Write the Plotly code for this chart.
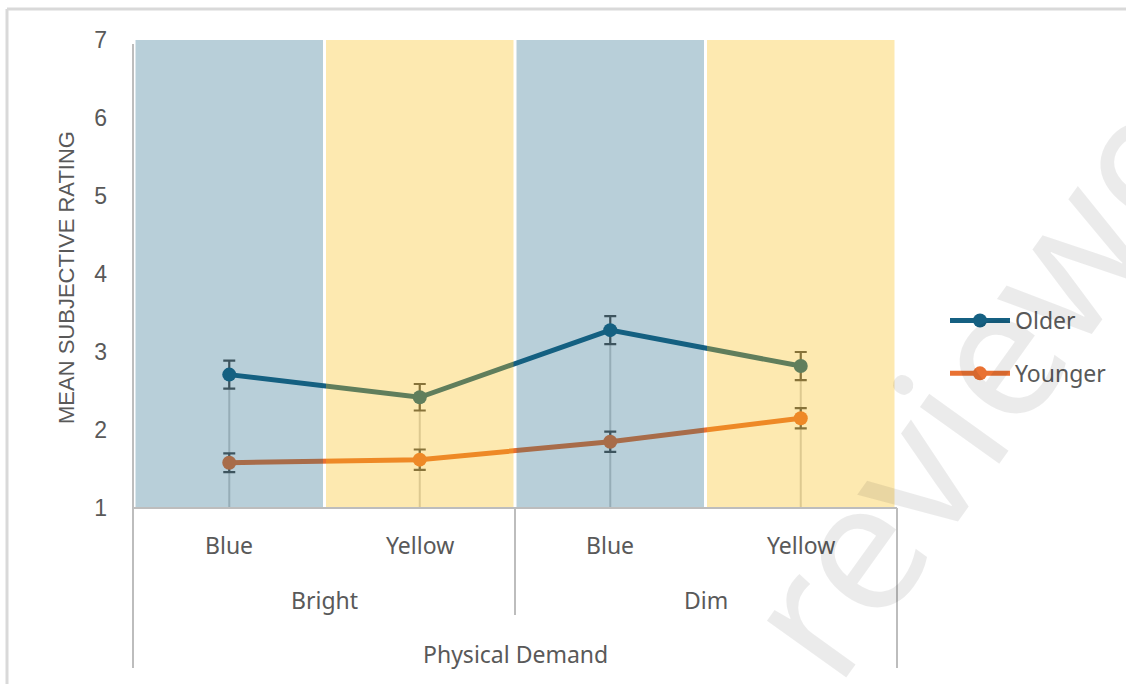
import plotly.graph_objects as go

# ---- data -------------------------------------------------------------
lights = ["Blue", "Yellow", "Blue", "Yellow"]
levels = ["Bright", "Dim"]
group_title = "Physical Demand"

older = [2.71, 2.42, 3.28, 2.82]
older_err = [0.18, 0.17, 0.18, 0.18]
younger = [1.58, 1.62, 1.85, 2.15]
younger_err = [0.12, 0.13, 0.13, 0.13]

y_ticks = [1, 2, 3, 4, 5, 6, 7]

# ---- styling ----------------------------------------------------------
OLDER_C = "#156082"
YOUNGER_C = "#E97132"
BAND_C = {"Blue": "rgba(21,96,130,0.30)", "Yellow": "rgba(249,188,15,0.33)"}
TXT = "#595959"
AXLINE = "#bdbdbd"
CAT_FONT = dict(family="Noto Sans, Open Sans, sans-serif", size=23, color=TXT)

W, H = 1126, 684
L, R, T, B = 134, 230, 40, 176
PW, PH = W - L - R, H - T - B


def px(xp):
    return (xp - L) / PW


def py(yp):
    return (H - B - yp) / PH


xs = list(range(len(lights)))

fig = go.Figure()

# drop lines from the upper series down to the axis floor
drop_x, drop_y = [], []
for x, v in zip(xs, older):
    drop_x += [x, x, None]
    drop_y += [v, y_ticks[0], None]
fig.add_trace(go.Scatter(x=drop_x, y=drop_y, mode="lines",
                         line=dict(color="#cfcfcf", width=2),
                         hoverinfo="skip", showlegend=False))

for name, vals, errs, col in [("Older", older, older_err, OLDER_C),
                              ("Younger", younger, younger_err, YOUNGER_C)]:
    fig.add_trace(go.Scatter(
        x=xs, y=vals, name=name, legendgroup=name, mode="lines+markers",
        line=dict(color=col, width=5),
        marker=dict(color=col, size=14),
        error_y=dict(type="data", array=errs, visible=True,
                     color="#505050", thickness=2.2, width=6),
    ))

shapes = []
gap = 1.5 / (PW / len(lights))
# translucent light-colour bands laid over the series
for i, lt in enumerate(lights):
    shapes.append(dict(type="rect", xref="x", yref="y", layer="above",
                       x0=i - 0.5 + gap, x1=i + 0.5 - gap,
                       y0=y_ticks[0], y1=y_ticks[-1],
                       fillcolor=BAND_C[lt], line=dict(width=0)))

# axis frame and category dividers
line = dict(color=AXLINE, width=2)
shapes += [
    dict(type="line", xref="paper", yref="paper", x0=px(133), x1=px(133),
         y0=py(44), y1=py(668), line=line),
    dict(type="line", xref="paper", yref="paper", x0=px(133), x1=px(897),
         y0=0, y1=0, line=line),
    dict(type="line", xref="x", yref="paper", x0=1.5, x1=1.5,
         y0=0, y1=py(615), line=line),
    dict(type="line", xref="paper", yref="paper", x0=px(897), x1=px(897),
         y0=0, y1=py(668), line=line),
    # chart-area border
    dict(type="line", xref="paper", yref="paper", x0=px(7), x1=px(1130),
         y0=py(9), y1=py(9), line=dict(color="#d9d9d9", width=3)),
    dict(type="line", xref="paper", yref="paper", x0=px(7), x1=px(7),
         y0=py(9), y1=py(690), line=dict(color="#d9d9d9", width=3)),
]

mid = dict(xanchor="center", yanchor="middle", showarrow=False)
ann = []
for i, lt in enumerate(lights):
    ann.append(dict(x=i, y=py(545), xref="x", yref="paper", text=lt,
                    font=CAT_FONT, **mid))
for j, lv in enumerate(levels):
    ann.append(dict(x=2 * j + 0.5, y=py(600), xref="x", yref="paper", text=lv,
                    font=CAT_FONT, **mid))
ann.append(dict(x=1.5, y=py(654), xref="x", yref="paper", text=group_title,
                font=CAT_FONT, **mid))
ann.append(dict(x=px(66), y=py(278), xref="paper", yref="paper",
                text="MEAN SUBJECTIVE RATING", textangle=-90,
                font=dict(family="Liberation Sans, Arial, sans-serif",
                          size=22, color=TXT), **mid))
# diagonal watermark
ann.append(dict(x=px(992), y=py(352), xref="paper", yref="paper",
                text="reviewer", textangle=-54.4,
                font=dict(family="Noto Sans, sans-serif", size=182,
                          color="rgba(0,0,0,0.08)"), **mid))

fig.update_layout(
    width=W, height=H,
    margin=dict(l=L, r=R, t=T, b=B, pad=0),
    paper_bgcolor="white", plot_bgcolor="white",
    shapes=shapes, annotations=ann,
    showlegend=True,
    legend=dict(x=px(945), y=py(347), xanchor="left", yanchor="middle",
                font=dict(family="Noto Sans, sans-serif", size=23, color=TXT),
                tracegroupgap=20, itemwidth=60, bgcolor="rgba(0,0,0,0)"),
)
fig.update_xaxes(range=[-0.5, len(lights) - 0.5], showgrid=False,
                 zeroline=False, showticklabels=False, showline=False,
                 ticks="", fixedrange=True)
fig.update_yaxes(range=[y_ticks[0], y_ticks[-1]], tickvals=y_ticks,
                 showgrid=False, zeroline=False, showline=False, ticks="",
                 ticklabelstandoff=26,
                 tickfont=dict(family="Liberation Sans, Arial, sans-serif",
                               size=23, color=TXT))

fig.write_html("out.html")
